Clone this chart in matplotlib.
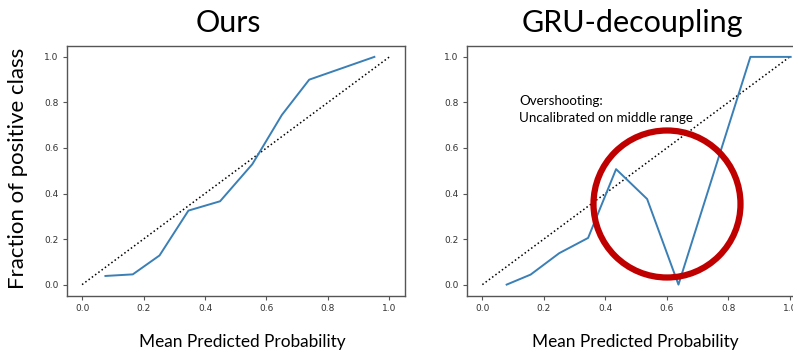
import matplotlib
matplotlib.use("Agg")
import matplotlib.pyplot as plt
from matplotlib.patches import Ellipse

# Data
ours_x = [0.076, 0.165, 0.252, 0.346, 0.449, 0.554, 0.650, 0.739, 0.951]
ours_y = [0.038, 0.045, 0.128, 0.325, 0.366, 0.529, 0.745, 0.900, 1.000]
gru_x = [0.079, 0.157, 0.250, 0.344, 0.435, 0.536, 0.638, 0.872, 1.003]
gru_y = [0.000, 0.044, 0.138, 0.205, 0.507, 0.376, 0.000, 1.000, 1.000]
ideal = [0.0, 1.0]
ticks = [0.0, 0.2, 0.4, 0.6, 0.8, 1.0]
titles = ["Ours", "GRU-decoupling"]
xlabel = "Mean Predicted Probability"
ylabel = "Fraction of positive class"
note = "Overshooting:\nUncalibrated on middle range"

W, H = 793, 351
fig = plt.figure(figsize=(W / 100, H / 100), dpi=100)
slide_font = ["Lato", "DejaVu Sans"]

def px_axes(x0, y0, x1, y1):
    return fig.add_axes([x0 / W, 1 - y1 / H, (x1 - x0) / W, (y1 - y0) / H])

ax1 = px_axes(66.7, 45.5, 404.8, 296)
ax2 = px_axes(467.0, 45.5, 805.1, 296)

line_color = "#3a7fb5"
for ax, xs, ys, title in [(ax1, ours_x, ours_y, titles[0]), (ax2, gru_x, gru_y, titles[1])]:
    ax.plot(ideal, ideal, "k:", lw=1.1)
    ax.plot(xs, ys, color=line_color, lw=1.4)
    ax.set_xlim(-0.05, 1.05)
    ax.set_ylim(-0.05, 1.05)
    ax.set_xticks(ticks)
    ax.set_yticks(ticks)
    ax.set_xticklabels([f"{t:.1f}" for t in ticks])
    ax.set_yticklabels([f"{t:.1f}" for t in ticks])
    ax.tick_params(labelsize=6.5, colors="#555555", labelcolor="#333333", length=3, width=0.8, pad=3)
    for s in ax.spines.values():
        s.set_color("#555555")
        s.set_linewidth(1.0)

fig.text(228 / W, 1 - 23 / H, titles[0], ha="center", va="center", fontsize=22, family=slide_font)
fig.text(632 / W, 1 - 23 / H, titles[1], ha="center", va="center", fontsize=22, family=slide_font)
fig.text(18 / W, 1 - 168 / H, ylabel, ha="center", va="center", rotation=90, fontsize=16, family=slide_font)
fig.text(242 / W, 1 - 342 / H, xlabel, ha="center", va="center", fontsize=12.4, family=slide_font)
fig.text(635 / W, 1 - 342 / H, xlabel, ha="center", va="center", fontsize=12.4, family=slide_font)
fig.text(519 / W, 1 - 95 / H, note, ha="left", va="top", fontsize=9.6, family=slide_font, linespacing=1.45)

ell = Ellipse((667 / W, 1 - 204 / H), 147 / W, 147 / H, transform=fig.transFigure,
              fill=False, edgecolor="#c00000", lw=4.5)
fig.add_artist(ell)

fig.savefig("out.png", dpi=100)
